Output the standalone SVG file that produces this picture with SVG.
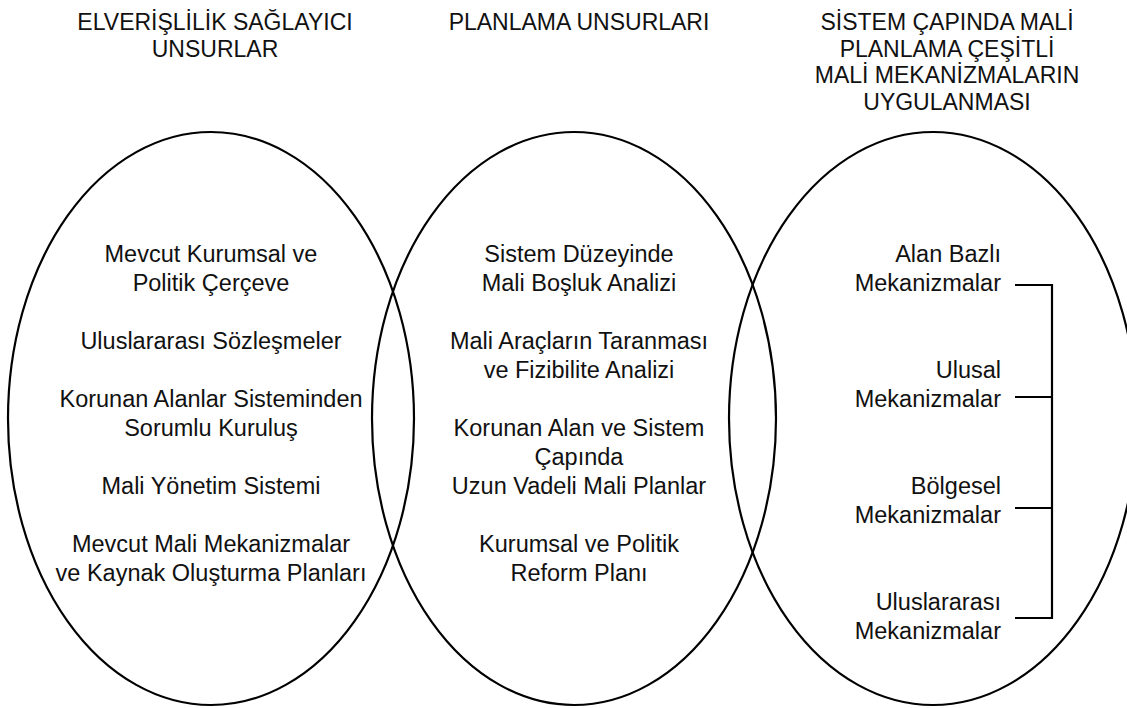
<svg xmlns="http://www.w3.org/2000/svg" width="1127" height="708" viewBox="0 0 1127 708">
<style>
.ell{fill:none;stroke:#000;stroke-width:2.2}
.t{font-family:"Liberation Sans",Arial,Helvetica,sans-serif;font-size:23px;fill:#111;text-anchor:middle}
.b{font-family:"Liberation Sans",Arial,Helvetica,sans-serif;font-size:23.5px;fill:#111;text-anchor:middle}
.r{text-anchor:end}
.br{fill:none;stroke:#000;stroke-width:2.2}
</style>
<rect width="1127" height="708" fill="#fff"/>
<g id="titles">
<text class="t" x="215" y="30">ELVERİŞLİLİK SAĞLAYICI</text>
<text class="t" x="215" y="56.5">UNSURLAR</text>
<text class="t" x="579" y="30">PLANLAMA UNSURLARI</text>
<text class="t" x="947" y="30">SİSTEM ÇAPINDA MALİ</text>
<text class="t" x="947" y="56.5">PLANLAMA ÇEŞİTLİ</text>
<text class="t" x="947" y="83">MALİ MEKANİZMALARIN</text>
<text class="t" x="947" y="110">UYGULANMASI</text>
</g>
<g id="node-left">
<ellipse class="ell" cx="211" cy="418.5" rx="203" ry="286.5"/>
<text class="b" x="211" y="262">Mevcut Kurumsal ve</text>
<text class="b" x="211" y="291">Politik Çerçeve</text>
<text class="b" x="211" y="349">Uluslararası Sözleşmeler</text>
<text class="b" x="211" y="407">Korunan Alanlar Sisteminden</text>
<text class="b" x="211" y="436">Sorumlu Kuruluş</text>
<text class="b" x="211" y="494">Mali Yönetim Sistemi</text>
<text class="b" x="211" y="552">Mevcut Mali Mekanizmalar</text>
<text class="b" x="211" y="581">ve Kaynak Oluşturma Planları</text>
</g>
<g id="node-middle">
<ellipse class="ell" cx="574" cy="418.5" rx="202" ry="286.5"/>
<text class="b" x="579" y="262">Sistem Düzeyinde</text>
<text class="b" x="579" y="291">Mali Boşluk Analizi</text>
<text class="b" x="579" y="349">Mali Araçların Taranması</text>
<text class="b" x="579" y="378">ve Fizibilite Analizi</text>
<text class="b" x="579" y="436">Korunan Alan ve Sistem</text>
<text class="b" x="579" y="465">Çapında</text>
<text class="b" x="579" y="494">Uzun Vadeli Mali Planlar</text>
<text class="b" x="579" y="552">Kurumsal ve Politik</text>
<text class="b" x="579" y="581">Reform Planı</text>
</g>
<g id="node-right">
<ellipse class="ell" cx="933" cy="418.5" rx="204" ry="286.5"/>
<text class="b r" x="1001" y="262">Alan Bazlı</text>
<text class="b r" x="1001" y="291">Mekanizmalar</text>
<text class="b r" x="1001" y="378">Ulusal</text>
<text class="b r" x="1001" y="407">Mekanizmalar</text>
<text class="b r" x="1001" y="494">Bölgesel</text>
<text class="b r" x="1001" y="523">Mekanizmalar</text>
<text class="b r" x="1001" y="610">Uluslararası</text>
<text class="b r" x="1001" y="639">Mekanizmalar</text>
</g>
<g id="connectors">
<path class="br" d="M1015 285 H1052 M1015 397 H1052 M1015 508 H1052 M1015 618 H1052 M1052 284 V619"/>
</g>
</svg>
